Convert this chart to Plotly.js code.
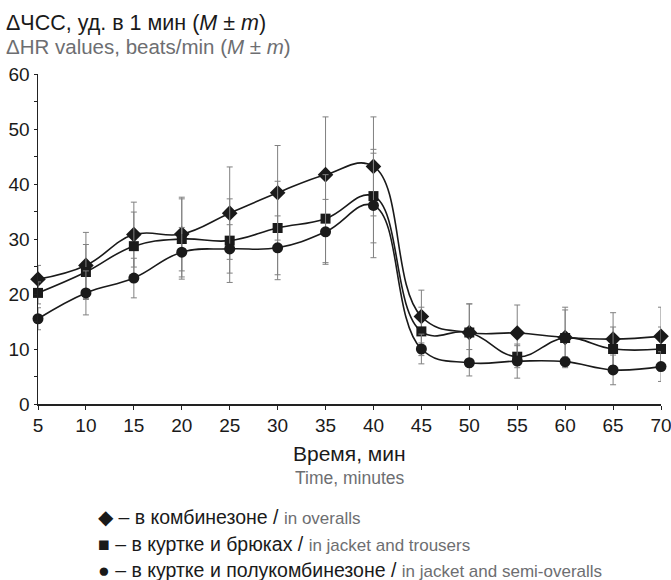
<!DOCTYPE html>
<html>
<head>
<meta charset="utf-8">
<script src="https://cdn.plot.ly/plotly-3.0.1.min.js"></script>
<style>html,body{margin:0;padding:0;background:#fff;}#chart{width:671px;height:580px;}</style>
</head>
<body>
<div id="chart"></div>
<script>
// Time, minutes
const times = [5, 10, 15, 20, 25, 30, 35, 40, 45, 50, 55, 60, 65, 70];

// ◆ in overalls
const overalls = [22.7, 25.2, 30.8, 30.9, 34.7, 38.4, 41.7, 43.2, 15.9, 13.0, 12.9, 12.1, 11.8, 12.3];
const overallsErr = [2.5, 6.0, 5.9, 6.7, 8.4, 8.6, 10.5, 9.0, 4.8, 5.2, 5.1, 5.5, 4.8, 5.3];

// ■ in jacket and trousers
const jacketTrousers = [20.2, 24.0, 28.7, 30.0, 29.7, 32.0, 33.7, 37.8, 13.2, 13.0, 8.6, 12.0, 10.0, 10.0];
const jacketTrousersErr = [2.0, 5.0, 6.2, 7.3, 7.6, 8.5, 8.0, 8.5, 4.4, 5.2, 2.0, 5.1, 4.0, 4.0];

// ● in jacket and semi-overalls
const jacketSemi = [15.5, 20.2, 22.9, 27.6, 28.2, 28.4, 31.3, 36.1, 10.0, 7.5, 7.8, 7.7, 6.2, 6.8];
const jacketSemiErr = [2.0, 4.0, 3.6, 4.5, 4.4, 5.8, 5.9, 9.5, 2.7, 2.4, 3.1, 0.9, 2.7, 2.7];

const xTicks = [5, 10, 15, 20, 25, 30, 35, 40, 45, 50, 55, 60, 65, 70];
const yTicks = [0, 10, 20, 30, 40, 50, 60];

const seriesNames = ['в комбинезоне', 'в куртке и брюках', 'в куртке и полукомбинезоне'];
const seriesNamesEn = ['in overalls', 'in jacket and trousers', 'in jacket and semi-overalls'];
const legendGlyphs = ['◆', '■', '●'];

const FONT = '"Liberation Sans", Arial, sans-serif';
const GRAY = '#6d6e71';

function mk(y, err, symbol, size, name) {
  return {
    x: times, y: y, name: name, type: 'scatter', mode: 'lines+markers',
    line: {color: '#1a1a1a', width: 1.6, shape: 'spline', smoothing: 1.2},
    marker: {symbol: symbol, size: size, color: '#1a1a1a'},
    error_y: {type: 'data', array: err, visible: true, color: '#808080', thickness: 1, width: 3},
    cliponaxis: false, showlegend: false
  };
}

const data = [
  mk(overalls, overallsErr, 'diamond', 12, seriesNames[0]),
  mk(jacketTrousers, jacketTrousersErr, 'square', 10, seriesNames[1]),
  mk(jacketSemi, jacketSemiErr, 'circle', 11, seriesNames[2])
];

const annotations = [
  {xref: 'paper', yref: 'paper', x: 0, y: 1, xanchor: 'left', yanchor: 'middle', xshift: -34, yshift: 51,
   showarrow: false, align: 'left',
   text: 'ΔЧСС, уд. в 1 мин (<i>M</i> ± <i>m</i>)', font: {family: FONT, size: 21.5, color: '#1a1a1a'}},
  {xref: 'paper', yref: 'paper', x: 0, y: 1, xanchor: 'left', yanchor: 'middle', xshift: -34, yshift: 28,
   showarrow: false, align: 'left',
   text: 'ΔHR values, beats/min (<i>M</i> ± <i>m</i>)', font: {family: FONT, size: 20.5, color: GRAY}},
  {xref: 'paper', yref: 'paper', x: 0.5, y: 0, xanchor: 'center', yanchor: 'middle', yshift: -49,
   showarrow: false, text: 'Время, мин', font: {family: FONT, size: 21, color: '#1a1a1a'}},
  {xref: 'paper', yref: 'paper', x: 0.5, y: 0, xanchor: 'center', yanchor: 'middle', yshift: -74,
   showarrow: false, text: 'Time, minutes', font: {family: FONT, size: 17.5, color: GRAY}}
];

for (let i = 0; i < 3; i++) {
  annotations.push({
    xref: 'paper', yref: 'paper', x: 0, y: 0, xanchor: 'left', yanchor: 'middle',
    xshift: 58, yshift: -113 - 26.5 * i, showarrow: false,
    text: legendGlyphs[i] + ' – ' + seriesNames[i] +
      ' / <span style="font-size:17px;color:' + GRAY + '">' + seriesNamesEn[i] + '</span>',
    font: {family: FONT, size: 19.5, color: '#1a1a1a'}
  });
}

const layout = {
  width: 671, height: 580,
  margin: {l: 38, r: 10, t: 74, b: 176},
  paper_bgcolor: '#fff', plot_bgcolor: '#fff',
  font: {family: FONT, color: '#1a1a1a'},
  xaxis: {
    range: [5, 70], tickvals: xTicks, ticktext: xTicks.map(String),
    showgrid: false, zeroline: false, showline: true, linecolor: '#222', linewidth: 1.5,
    ticks: 'outside', ticklen: 4, tickcolor: '#222', tickfont: {family: FONT, size: 19, color: '#1a1a1a'},
    ticklabeloverflow: 'allow',
    fixedrange: true
  },
  yaxis: {
    range: [0, 60], tickvals: yTicks, ticktext: yTicks.map(String),
    showgrid: false, zeroline: false, showline: true, linecolor: '#222', linewidth: 1.5,
    ticks: 'outside', ticklen: 3, tickcolor: '#222', tickfont: {family: FONT, size: 19, color: '#1a1a1a'},
    ticklabelstandoff: 0,
    minor: {tickvals: [5, 15, 25, 35, 45, 55], ticks: 'outside', ticklen: 3, tickcolor: '#222'},
    fixedrange: true
  },
  annotations: annotations,
  showlegend: false
};

Plotly.newPlot('chart', data, layout, {displayModeBar: false, staticPlot: true});
</script>
</body>
</html>
